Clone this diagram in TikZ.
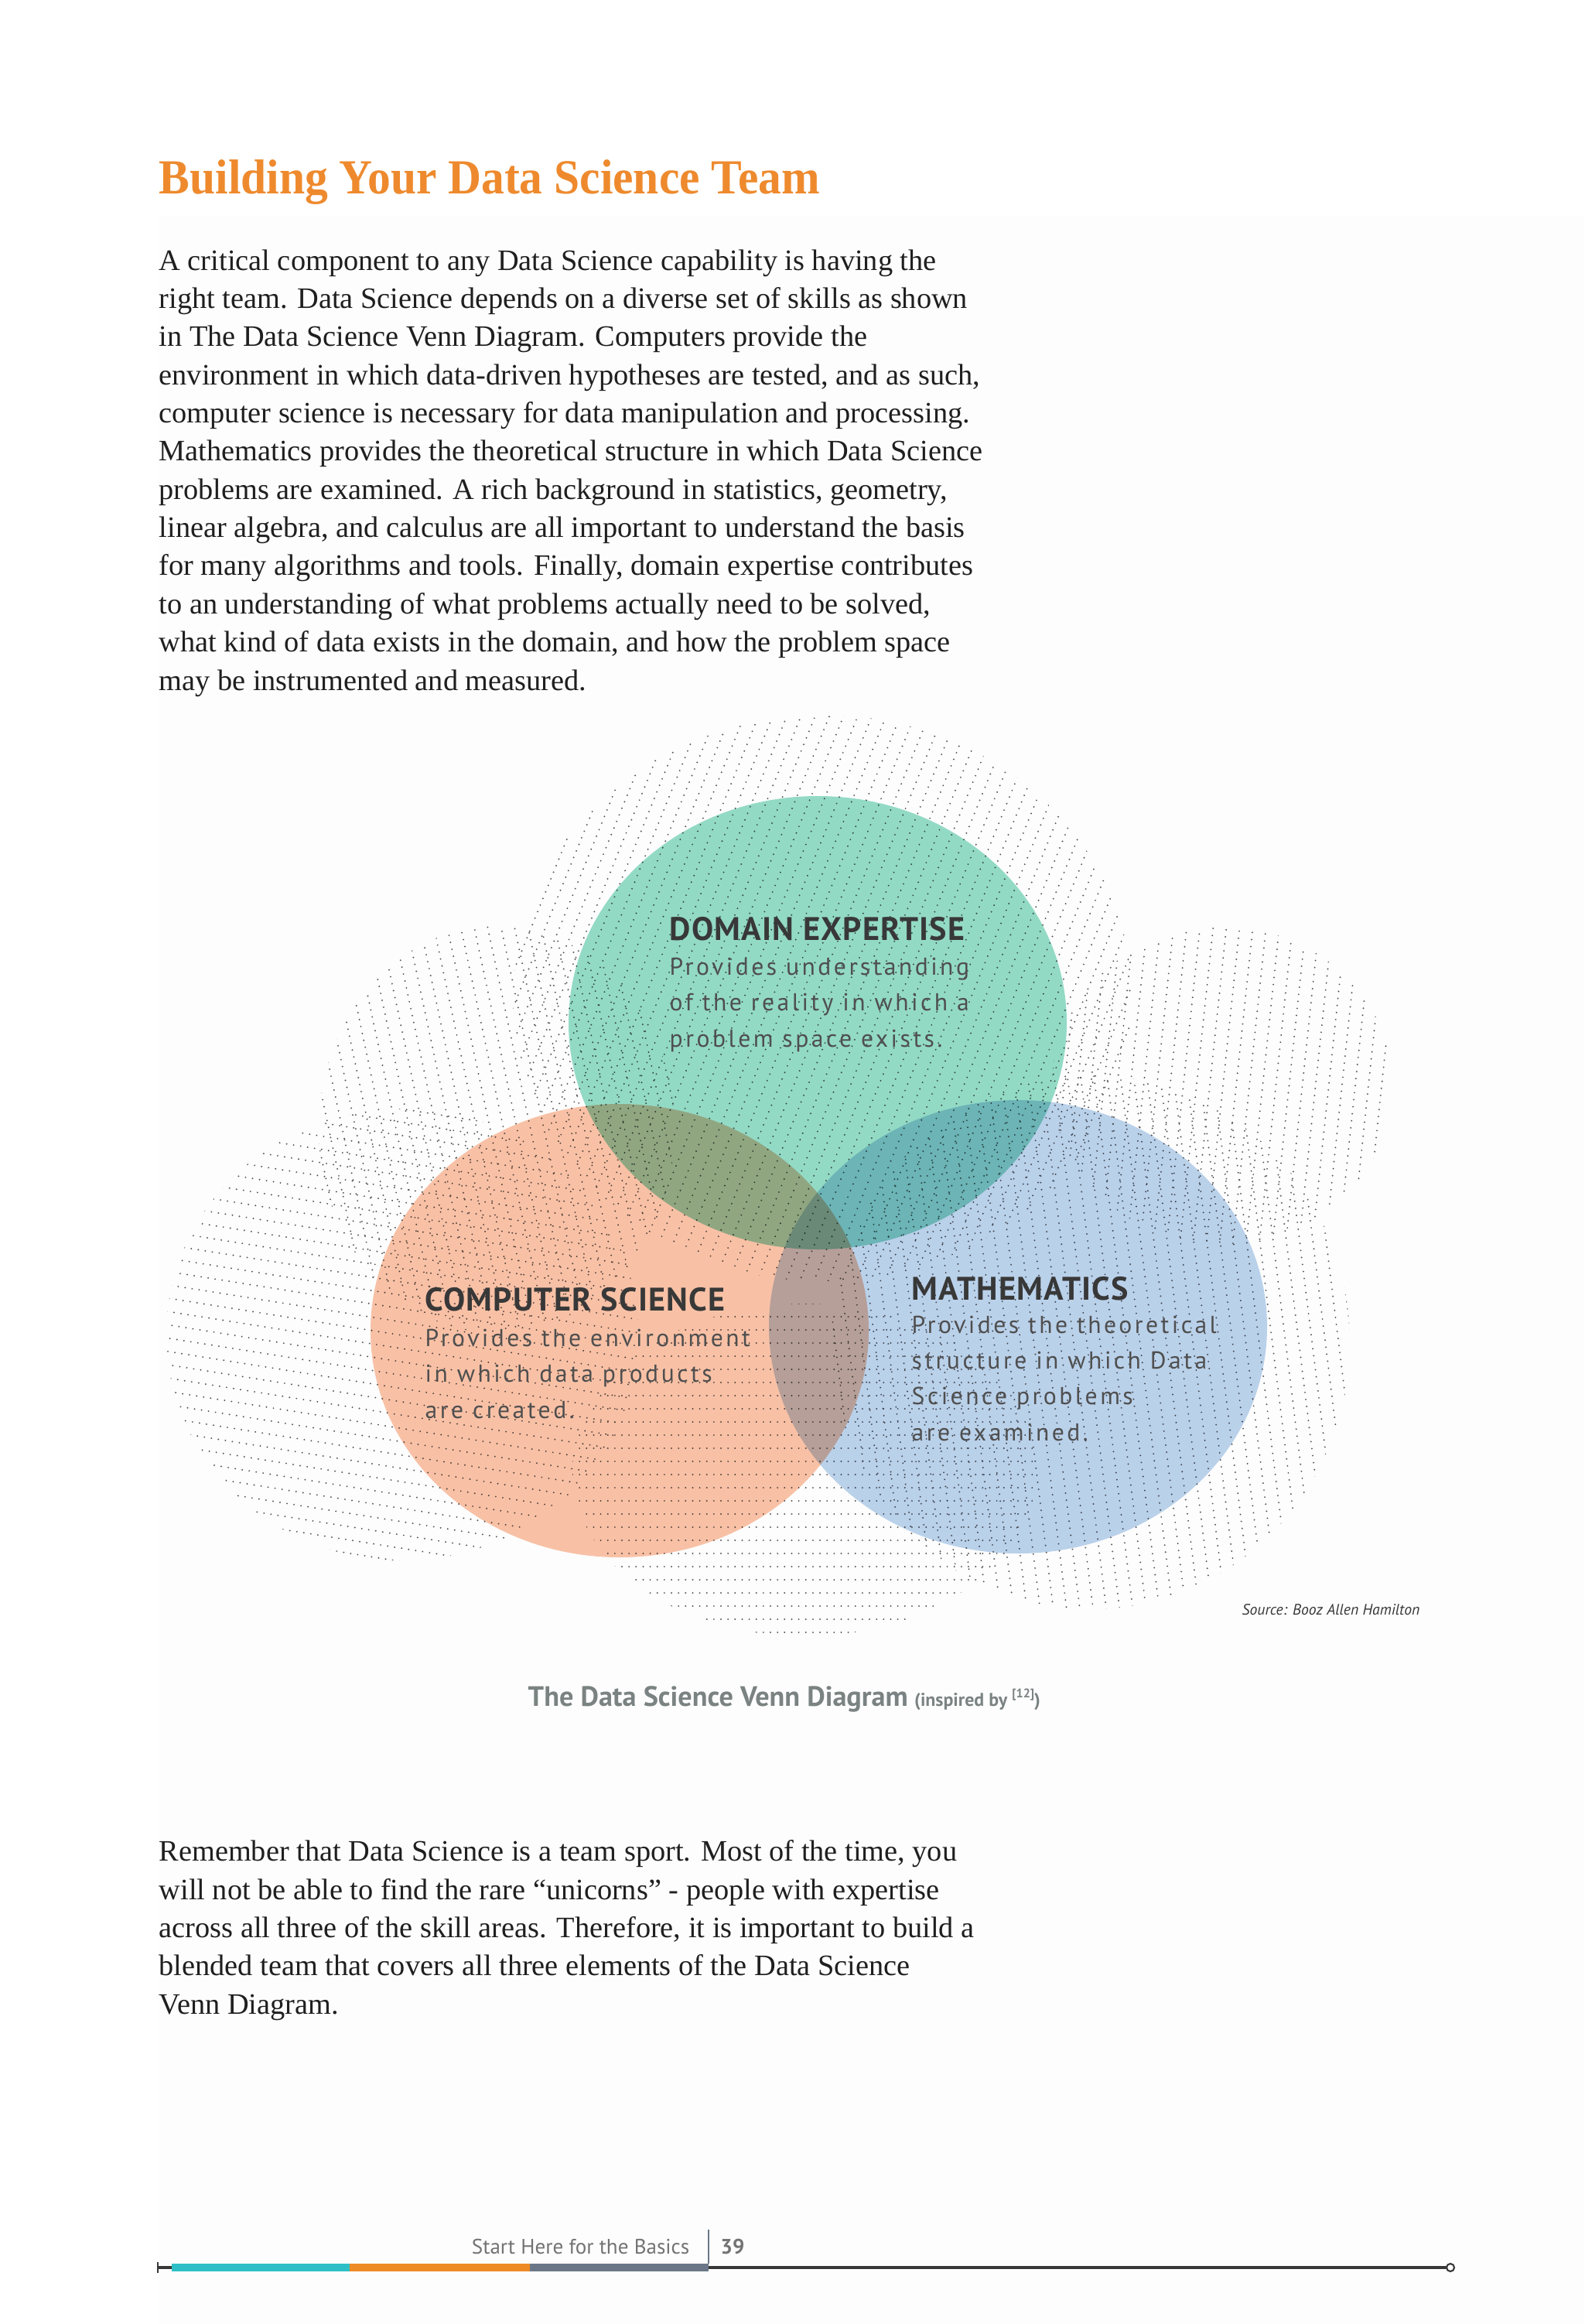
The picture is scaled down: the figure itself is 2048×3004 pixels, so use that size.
\documentclass[tikz,border=0pt]{standalone}
\usepackage{fontspec}
\setmainfont{Liberation Serif}
\newfontfamily\headfont{Liberation Serif}[FakeStretch=0.94]
\newfontfamily\dinfont{PT Sans}
\newfontfamily\dinhead{PT Sans}[LetterSpace=3]
\newfontfamily\dinwide{PT Sans}[LetterSpace=11]
\usetikzlibrary{positioning}
\definecolor{ttlorange}{HTML}{EE8A2D}
\definecolor{domgreen}{HTML}{95DCC7}
\definecolor{csorange}{HTML}{FAC3A8}
\definecolor{mathblue}{HTML}{BCD3EC}
\definecolor{dotgray}{HTML}{5A5A5A}
\definecolor{inkdark}{HTML}{383838}
\definecolor{inkbody}{HTML}{4F4F4F}
\definecolor{capgray}{HTML}{7B8282}
\definecolor{barcyan}{HTML}{2EBFC6}
\definecolor{barorange}{HTML}{EE8A25}
\definecolor{barslate}{HTML}{6B7788}
\definecolor{pageshade}{HTML}{FDFDFD}

\begin{document}
\begin{tikzpicture}[
    x=0.01cm, y=-0.01cm,
    para/.style={anchor=base west,inner sep=0pt,align=left,font=\fontsize{10.9}{14.03}\selectfont,text=black!88},
    venhead/.style={anchor=base west,inner sep=0pt,font=\dinhead\bfseries\fontsize{12}{13}\selectfont,text=inkdark},
    venbody/.style={anchor=base west,inner sep=0pt,align=left,font=\dinwide\fontsize{9}{13.1}\selectfont,text=inkbody},
    dotrow/.style={dotgray,line width=0.62pt,line cap=round,dash pattern=on 0pt off 2.6pt},
    venn/.style={blend mode=multiply},
    footer/.style={inner sep=0pt,font=\dinfont\fontsize{7.7}{9}\selectfont,text=black!55}
]
\useasboundingbox[fill=white] (0,0) rectangle (2048,3004);
\fill[pageshade] (205,280) rectangle (2048,3004);

\node[anchor=base west,inner sep=0pt,font=\headfont\bfseries\fontsize{18}{22}\selectfont,text=ttlorange] (title) at (205,251) {Building Your Data Science Team};

% multi-line nodes sit on the baseline of their last line
\node[para] (intro) at (205,892) {A critical component to any Data Science capability is having the\\
right team. Data Science depends on a diverse set of skills as shown\\
in The Data Science Venn Diagram. Computers provide the\\
environment in which data-driven hypotheses are tested, and as such,\\
computer science is necessary for data manipulation and processing.\\
Mathematics provides the theoretical structure in which Data Science\\
problems are examined. A rich background in statistics, geometry,\\
linear algebra, and calculus are all important to understand the basis\\
for many algorithms and tools. Finally, domain expertise contributes\\
to an understanding of what problems actually need to be solved,\\
what kind of data exists in the domain, and how the problem space\\
may be instrumented and measured.};

% dotted texture
\foreach \cx/\cy/\rx/\ry/\ang in {1063/1290/400/366/68, 642/1460/230/263/102, 520/1725/305/292/-9,
    1580/1403/220/205/84, 1410/1735/335/345/97, 1040/1900/300/215/0}{
  \begin{scope}
    \clip (\cx,\cy) ellipse [x radius=\rx, y radius=\ry];
    \pgfmathsetmacro\rr{max(\rx,\ry)}
    \pgfmathsetmacro\rs{-\rr+17}
    \begin{scope}[shift={(\cx,\cy)},rotate=\ang]
      \foreach \k in {-\rr,\rs,...,\rr}
        \draw[dotrow] (-\rr,\k) -- (\rr,\k);
    \end{scope}
  \end{scope}
}

\fill[venn,domgreen] (1057,1322) ellipse [x radius=322, y radius=293];
\fill[venn,csorange] (801,1720) ellipse [x radius=322, y radius=293];
\fill[venn,mathblue] (1316,1715) ellipse [x radius=322, y radius=293];

\node[venhead] (domhead) at (865,1215) {DOMAIN EXPERTISE};
\node[venbody] (dombody) at (865,1353) {Provides understanding\\of the reality in which a\\problem space exists.};
\node[venhead] (cshead) at (549,1694) {COMPUTER SCIENCE};
\node[venbody] (csbody) at (549,1833) {Provides the environment\\in which data products\\are created.};
\node[venhead] (mathhead) at (1178,1680) {MATHEMATICS};
\node[venbody] (mathbody) at (1178,1862) {Provides the theoretical\\structure in which Data\\Science problems\\are examined.};

\node[anchor=base west,inner sep=0pt,font=\dinfont\itshape\fontsize{5.6}{6.5}\selectfont,text=inkdark] (source) at (1605,2087) {Source: Booz Allen Hamilton};

\node[anchor=base west,inner sep=0pt,font=\dinfont\bfseries\fontsize{10.3}{12}\selectfont,text=capgray] (caption) at (682,2205) {The Data Science Venn Diagram};
\node[anchor=base west,inner sep=0pt,xshift=2pt,font=\dinfont\bfseries\fontsize{6.8}{8}\selectfont,text=capgray] (capnote) at (caption.base east) {(inspired by \raisebox{0.45em}{\fontsize{4.6}{5}\selectfont[12]})};

\node[para] (closing) at (205,2603) {Remember that Data Science is a team sport. Most of the time, you\\
will not be able to find the rare ``unicorns'' - people with expertise\\
across all three of the skill areas. Therefore, it is important to build a\\
blended team that covers all three elements of the Data Science\\
Venn Diagram.};

% footer rule
\coordinate (footl) at (204,2931);
\coordinate (footr) at (1870,2931);
\draw[inkdark,line width=0.9pt] (footl) -- (footr);
\fill[barcyan] (222,2926) rectangle (452,2936);
\fill[barorange] (452,2926) rectangle (685,2936);
\fill[barslate] (685,2926) rectangle (916,2936);
\draw[inkdark,line width=0.6pt] (204,2924) -- (204,2938);
\draw[inkdark,line width=0.6pt,fill=white] (1875,2931) circle [radius=5];
\draw[barslate,line width=0.8pt] (916,2882) -- (916,2926);
\node[footer,anchor=base east] (section) at (892,2913) {Start Here for the Basics};
\node[footer,anchor=base west,font=\dinfont\bfseries\fontsize{7.7}{9}\selectfont] (pagenum) at (931,2913) {39};

\end{tikzpicture}
\end{document}
